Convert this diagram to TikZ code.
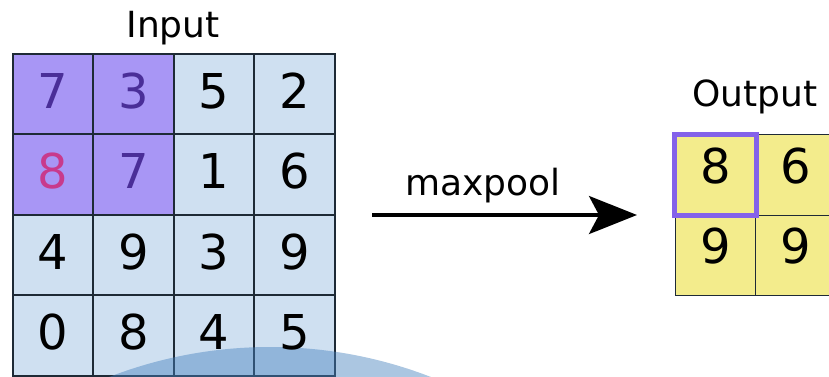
\documentclass[tikz,border=0pt]{standalone}
\usepackage{fontspec}
\setmainfont{DejaVu Sans}
\usetikzlibrary{arrows.meta}
\definecolor{cellblue}{RGB}{207,224,241}
\definecolor{cellpurple}{RGB}{168,150,245}
\definecolor{digitpurple}{RGB}{74,46,152}
\definecolor{digitpink}{RGB}{200,58,140}
\definecolor{cellyellow}{RGB}{243,236,140}
\definecolor{pickframe}{RGB}{132,98,234}
\definecolor{gridline}{RGB}{30,42,54}
\definecolor{bluewash}{RGB}{70,130,190}
\tikzset{
  cell/.style={minimum width=80.5pt, minimum height=80.5pt, inner sep=0pt, draw=gridline, line width=1.6pt},
  incell/.style={cell, fill=cellblue},
  selcell/.style={cell, fill=cellpurple},
  outcell/.style={cell, fill=cellyellow, line width=1.3pt},
  digit/.style={font=\fontsize{48}{48}\selectfont},
  caption/.style={font=\fontsize{36}{36}\selectfont, anchor=base},
  pick/.style={draw=pickframe, line width=5pt},
  flow/.style={line width=3.5pt, -{Stealth[length=48pt, width=38pt, inset=10pt]}}
}
\begin{document}
\begin{tikzpicture}[x=1pt, y=-1pt]
\useasboundingbox (0,0) rectangle (829,376);
\fill[white] (0,0) rectangle (829,376);

% input grid, 4x4
\foreach \r/\y in {1/94, 2/174.5, 3/255, 4/335.5}{
  \foreach \c/\x in {1/53, 2/133.5, 3/214, 4/294.5}{
    \node[incell] (in-\r-\c) at (\x,\y) {};
  }
}
% the pooled 2x2 window
\foreach \r/\c in {1/1,1/2,2/1,2/2}{
  \node[selcell] at (in-\r-\c) {};
}

% output grid, 2x2
\foreach \r/\y in {1/175, 2/255.5}{
  \foreach \c/\x in {1/715.5, 2/796}{
    \node[outcell] (out-\r-\c) at (\x,\y) {};
  }
}

% soft blue disc along the bottom edge
\fill[bluewash, opacity=0.45] (270,792) circle (445);

% digits of the input
\foreach \r/\c/\v/\col in {
  1/1/7/digitpurple, 1/2/3/digitpurple, 1/3/5/black, 1/4/2/black,
  2/1/8/digitpink,   2/2/7/digitpurple, 2/3/1/black, 2/4/6/black,
  3/1/4/black, 3/2/9/black, 3/3/3/black, 3/4/9/black,
  4/1/0/black, 4/2/8/black, 4/3/4/black, 4/4/5/black}{
  \node[digit, text=\col, anchor=base] at ([yshift=-14pt]in-\r-\c.center) {\v};
}
% digits of the output
\foreach \r/\c/\v in {1/1/8, 1/2/6, 2/1/9, 2/2/9}{
  \node[digit, anchor=base] at ([yshift=-8pt]out-\r-\c.center) {\v};
}

% frame around the pooled maximum
\draw[pick] (out-1-1.north west) rectangle (out-1-1.south east);

% titles
\node[caption] (inlabel) at (173,37) {Input};
\node[caption] (outlabel) at (755,106) {Output};

% the pooling arrow
\coordinate (arrowstart) at (372,215);
\coordinate (arrowend) at (637,215);
\draw[flow] (arrowstart) -- (arrowend);
\node[caption] (oplabel) at (483,195) {maxpool};
\end{tikzpicture}
\end{document}
